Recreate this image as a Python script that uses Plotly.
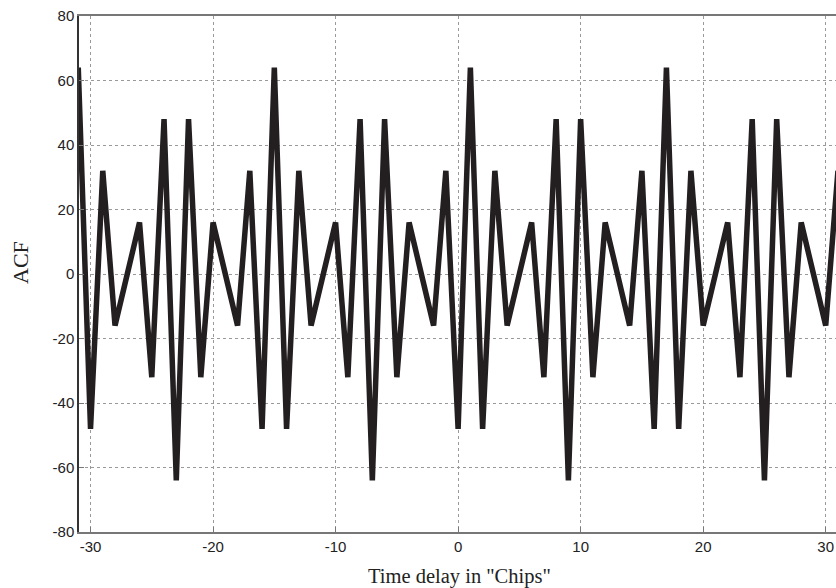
import plotly.graph_objects as go

delays = list(range(-31, 32))
acf = [64, -48, 32, -16, 0, 16, -32, 48, -64, 48, -32, 16, 0, -16, 32, -48,
       64, -48, 32, -16, 0, 16, -32, 48, -64, 48, -32, 16, 0, -16, 32, -48,
       64, -48, 32, -16, 0, 16, -32, 48, -64, 48, -32, 16, 0, -16, 32, -48,
       64, -48, 32, -16, 0, 16, -32, 48, -64, 48, -32, 16, 0, -16, 32]
x_ticks = [-30, -20, -10, 0, 10, 20, 30]
y_ticks = [80, 60, 40, 20, 0, -20, -40, -60, -80]

fig = go.Figure()
fig.add_trace(go.Scatter(x=delays, y=acf, mode="lines",
                         line=dict(color="#231f20", width=5.5)))

tickfont = dict(family="Liberation Sans, Arial, sans-serif", size=15, color="#222")
titlefont = dict(family="Liberation Serif, Times New Roman, serif", size=20.5, color="#222")

fig.update_layout(
    width=836, height=588,
    margin=dict(l=79, r=0, t=16, b=56),
    paper_bgcolor="white", plot_bgcolor="white",
    showlegend=False,
    xaxis=dict(range=[-30.94, 30.84], tickvals=x_ticks, ticktext=[str(v) for v in x_ticks],
               showgrid=True, gridcolor="#9a9a9a", griddash="dot", gridwidth=1,
               showline=True, linecolor="#777", linewidth=1.5, mirror=True,
               ticks="inside", ticklen=5, tickcolor="#777",
               zeroline=False, tickfont=tickfont),
    yaxis=dict(range=[-80, 80], tickvals=y_ticks, ticktext=[str(v) for v in y_ticks],
               showgrid=True, gridcolor="#9a9a9a", griddash="dot", gridwidth=1,
               showline=True, linecolor="#333", linewidth=1.5,
               ticks="inside", ticklen=5, tickcolor="#777",
               zeroline=False, tickfont=tickfont),
    annotations=[
        dict(text='Time delay in "Chips"', xref="paper", yref="paper",
             x=(460 - 79) / 757, y=-(576 - 532) / 516, xanchor="center", yanchor="middle",
             showarrow=False, font=titlefont),
        dict(text="ACF", xref="paper", yref="paper",
             x=-(79 - 20) / 757, y=(532 - 262) / 516, xanchor="center", yanchor="middle",
             textangle=-90, showarrow=False,
             font=dict(family="Liberation Serif, Times New Roman, serif", size=22, color="#222")),
    ],
)

fig.write_html("out.html")
